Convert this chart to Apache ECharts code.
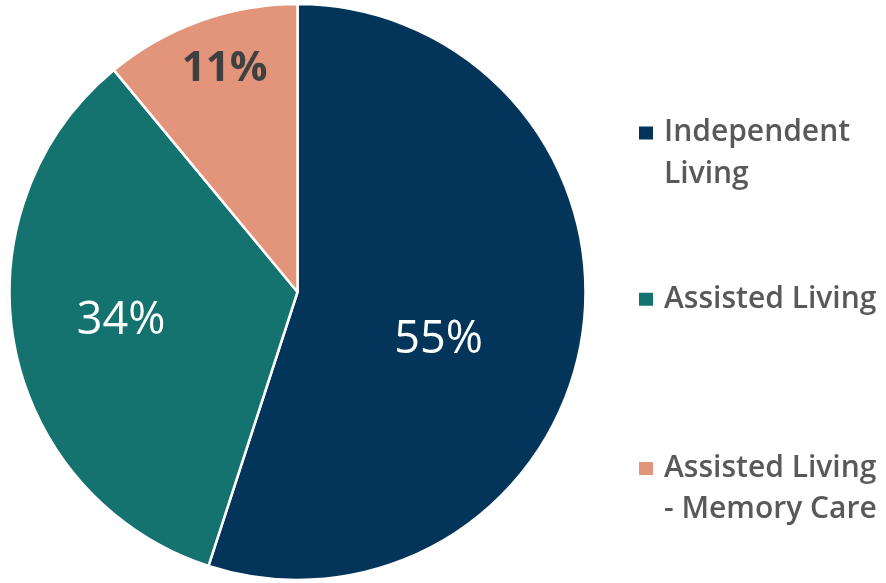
<!DOCTYPE html>
<html>
<head>
<meta charset="utf-8">
<script src="https://cdn.jsdelivr.net/npm/echarts@6/dist/echarts.min.js"></script>
<style>html,body{margin:0;padding:0;background:#fff;}#c{width:886px;height:583px;}</style>
</head>
<body>
<div id="c"></div>
<script>
const categories = ['Independent Living', 'Assisted Living', 'Assisted Living - Memory Care'];
const legendLabels = ['Independent\nLiving', 'Assisted Living', 'Assisted Living\n- Memory Care'];
const values = [55, 34, 11];
const colors = ['#03345A', '#14736F', '#E2957A'];
const labelColors = ['#FFFFFF', '#FFFFFF', '#404040'];
const labelWeights = ['normal', 'normal', 'bold'];
const labelSizes = [45, 45, 42];
const labelShift = [[-4, 25], [-32, 2], [-23, -85]];

const chart = echarts.init(document.getElementById('c'), null, {renderer: 'canvas'});
const font = '"Open Sans", "Noto Sans", sans-serif';
const legendTops = [112, 278.5, 447.5];
const twoLine = [true, false, true];
// square marker aligned with the first text line of a two-line legend entry
const tallIcon = 'path://M0,0h16v15h-16z M0,56L0,56';

chart.setOption({
  animation: false,
  legend: categories.map((name, i) => ({
    data: [name],
    orient: 'vertical',
    left: 637,
    top: legendTops[i],
    padding: 0,
    itemWidth: 16,
    itemHeight: twoLine[i] ? 56 : 15,
    icon: twoLine[i] ? tallIcon : 'rect',
    selectedMode: false,
    formatter: () => legendLabels[i],
    textStyle: {
      fontFamily: font,
      fontSize: 30,
      fontWeight: 600,
      color: '#595959',
      lineHeight: 41.5,
      padding: [0, 0, 0, 5]
    }
  })),
  series: [{
    type: 'pie',
    center: [297.5, 292],
    radius: [0, 288],
    startAngle: 90,
    clockwise: true,
    itemStyle: {borderColor: '#FFFFFF', borderWidth: 2.5},
    label: {
      position: 'inside',
      fontFamily: font,
      formatter: p => p.value + '%'
    },
    labelLine: {show: false},
    labelLayout: p => ({dx: labelShift[p.dataIndex][0], dy: labelShift[p.dataIndex][1]}),
    data: categories.map((name, i) => ({
      name: name,
      value: values[i],
      itemStyle: {color: colors[i]},
      label: {color: labelColors[i], fontWeight: labelWeights[i], fontSize: labelSizes[i]}
    }))
  }]
});
</script>
</body>
</html>
